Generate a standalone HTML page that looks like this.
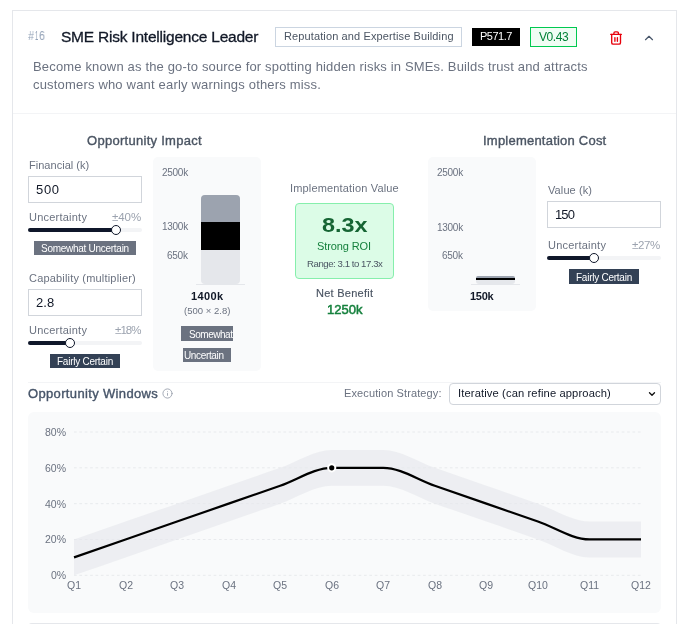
<!DOCTYPE html>
<html><head><meta charset="utf-8"><style>
html,body{margin:0;padding:0;background:#fff;width:685px;height:624px;overflow:hidden;position:relative}
.t{position:absolute;will-change:transform;white-space:nowrap;font-family:"Liberation Sans",sans-serif}
.b{position:absolute}
</style></head><body>
<div class="b" style="left:12px;top:10px;width:665px;height:690px;border:1px solid #e5e7eb;background:#fff;box-sizing:border-box"></div>
<div class="t" style="left:27.90px;top:30.00px;font-size:12px;line-height:12px;color:#94a3b8;font-weight:normal;letter-spacing:0.000px;transform:scaleX(0.9023);transform-origin:0 0;">#</div>
<div class="t" style="left:35.00px;top:30.00px;font-size:12px;line-height:12px;color:#94a3b8;font-weight:normal;letter-spacing:0.000px;transform:scaleX(0.4812);transform-origin:0 0;">1</div>
<div class="t" style="left:39.40px;top:30.00px;font-size:12px;line-height:12px;color:#94a3b8;font-weight:normal;letter-spacing:0.000px;transform:scaleX(0.8872);transform-origin:0 0;">6</div>
<div class="t" style="left:60.60px;top:29.00px;font-size:15.5px;line-height:15.5px;color:#111827;font-weight:normal;letter-spacing:-0.219px;-webkit-text-stroke:0.3px #111827;">SME Risk Intelligence Leader</div>
<div class="b" style="left:275px;top:27px;width:187px;height:20px;border:1px solid #cbd5e1;box-sizing:border-box"></div>
<div class="t" style="left:283.50px;top:31.00px;font-size:11px;line-height:11px;color:#4b5563;font-weight:normal;letter-spacing:0.119px;">Reputation and Expertise Building</div>
<div class="b" style="left:472px;top:28px;width:48px;height:18px;background:#000"></div>
<div class="t" style="left:480.00px;top:31.00px;font-size:11px;line-height:11px;color:#fff;font-weight:normal;letter-spacing:-0.510px;">P571.7</div>
<div class="b" style="left:530px;top:27px;width:47px;height:20px;border:1px solid #00c950;background:#f0fdf4;box-sizing:border-box"></div>
<div class="t" style="left:539.00px;top:31.00px;font-size:12px;line-height:12px;color:#008236;font-weight:normal;letter-spacing:-0.413px;">V0.43</div>
<svg class="b" style="left:600px;top:25px" width="30" height="25" viewBox="600 25 30 25" fill="none" stroke="#e7000b" stroke-width="1.35" stroke-linecap="round" stroke-linejoin="round"><path d="M610.7 34.35h10.7"/><path d="M611.7 34.35v8.3a1.5 1.5 0 0 0 1.5 1.5h5.8a1.5 1.5 0 0 0 1.5-1.5v-8.3"/><path d="M613.9 34.35v-1.2a1.2 1.2 0 0 1 1.2-1.2h2.1a1.2 1.2 0 0 1 1.2 1.2v1.2"/><path d="M614.9 37.6v3.7M617.4 37.6v3.7"/></svg>
<svg class="b" style="left:642.1px;top:31.1px" width="14" height="14" viewBox="0 0 24 24" fill="none" stroke="#475569" stroke-width="2" stroke-linecap="round" stroke-linejoin="round"><path d="m18 15-6-6-6 6"/></svg>
<div class="t" style="left:33.20px;top:60.00px;font-size:13px;line-height:13px;color:#6b7280;font-weight:normal;letter-spacing:0.160px;">Become known as the go-to source for spotting hidden risks in SMEs. Builds trust and attracts</div>
<div class="t" style="left:33.20px;top:78.00px;font-size:13px;line-height:13px;color:#6b7280;font-weight:normal;letter-spacing:0.182px;">customers who want early warnings others miss.</div>
<div class="b" style="left:13px;top:113px;width:663px;height:1px;background:#f3f4f6"></div>
<div class="t" style="left:86.80px;top:134.00px;font-size:13px;line-height:13px;color:#4b5563;font-weight:normal;letter-spacing:0.282px;-webkit-text-stroke:0.38px #4b5563;">Opportunity Impact</div>
<div class="t" style="left:28.50px;top:160.00px;font-size:11px;line-height:11px;color:#6b7280;font-weight:normal;letter-spacing:0.025px;">Financial (k)</div>
<div class="b" style="left:28px;top:176px;width:114px;height:27px;border:1px solid #d1d5db;background:#fff;box-sizing:border-box"></div>
<div class="t" style="left:36.00px;top:183.00px;font-size:13px;line-height:13px;color:#111827;font-weight:normal;letter-spacing:0.650px;">500</div>
<div class="t" style="left:28.50px;top:212.00px;font-size:11px;line-height:11px;color:#6b7280;font-weight:normal;letter-spacing:0.225px;">Uncertainty</div>
<div class="t" style="left:112.00px;top:212.00px;font-size:11.5px;line-height:11.5px;color:#9ca3af;font-weight:normal;letter-spacing:-0.050px;">±40%</div>
<div class="b" style="left:28px;top:228px;width:114px;height:4px;background:#f3f4f6;border-radius:2px"></div>
<div class="b" style="left:28px;top:228px;width:88px;height:4px;background:#0f172a;border-radius:2px"></div>
<div class="b" style="left:111px;top:225px;width:10px;height:10px;background:#fff;border:1.5px solid #0f172a;border-radius:50%;box-sizing:border-box"></div>
<div class="b" style="left:34px;top:241px;width:102px;height:14px;background:#6b7280"></div>
<div class="t" style="left:40.90px;top:244.00px;font-size:10px;line-height:10px;color:#fff;font-weight:normal;letter-spacing:-0.274px;">Somewhat Uncertain</div>
<div class="t" style="left:28.50px;top:273.00px;font-size:11px;line-height:11px;color:#6b7280;font-weight:normal;letter-spacing:0.182px;">Capability (multiplier)</div>
<div class="b" style="left:28px;top:289px;width:114px;height:27px;border:1px solid #d1d5db;background:#fff;box-sizing:border-box"></div>
<div class="t" style="left:36.00px;top:296.00px;font-size:13px;line-height:13px;color:#111827;font-weight:normal;letter-spacing:0.025px;">2.8</div>
<div class="t" style="left:28.50px;top:325.00px;font-size:11px;line-height:11px;color:#6b7280;font-weight:normal;letter-spacing:0.225px;">Uncertainty</div>
<div class="t" style="left:114.60px;top:325.00px;font-size:11.5px;line-height:11.5px;color:#9ca3af;font-weight:normal;letter-spacing:-0.917px;">±18%</div>
<div class="b" style="left:28px;top:341px;width:114px;height:4px;background:#f3f4f6;border-radius:2px"></div>
<div class="b" style="left:28px;top:341px;width:42px;height:4px;background:#0f172a;border-radius:2px"></div>
<div class="b" style="left:65px;top:338px;width:10px;height:10px;background:#fff;border:1.5px solid #0f172a;border-radius:50%;box-sizing:border-box"></div>
<div class="b" style="left:50px;top:354px;width:70px;height:14px;background:#334155"></div>
<div class="t" style="left:56.90px;top:357.00px;font-size:10px;line-height:10px;color:#fff;font-weight:normal;letter-spacing:-0.250px;">Fairly Certain</div>
<div class="b" style="left:153px;top:157px;width:108px;height:214px;background:#f9fafb;border-radius:5px"></div>
<div class="t" style="left:162.00px;top:168.00px;font-size:10px;line-height:10px;color:#6b7280;font-weight:normal;letter-spacing:-0.275px;">2500k</div>
<div class="t" style="left:162.00px;top:222.00px;font-size:10px;line-height:10px;color:#6b7280;font-weight:normal;letter-spacing:-0.275px;">1300k</div>
<div class="t" style="left:167.20px;top:251.00px;font-size:10px;line-height:10px;color:#6b7280;font-weight:normal;letter-spacing:-0.250px;">650k</div>
<div class="b" style="left:201px;top:195px;width:39px;height:89px;background:#e5e7eb;border-radius:4px"></div>
<div class="b" style="left:201px;top:195px;width:39px;height:27px;background:#9ca3af;border-radius:4px 4px 0 0"></div>
<div class="b" style="left:201px;top:222px;width:39px;height:28px;background:#000"></div>
<div class="b" style="left:196px;top:284px;width:49px;height:1px;background:#e5e7eb"></div>
<div class="t" style="left:190.95px;top:291.00px;font-size:11px;line-height:11px;color:#111827;font-weight:bold;letter-spacing:0.375px;">1400k</div>
<div class="t" style="left:183.75px;top:306.00px;font-size:9.5px;line-height:9.5px;color:#6b7280;font-weight:normal;letter-spacing:0.030px;">(500 × 2.8)</div>
<div class="b" style="left:181px;top:326px;width:52px;height:15px;background:#6b7280"></div>
<div class="t" style="left:188.80px;top:330.00px;font-size:10px;line-height:10px;color:#fff;font-weight:normal;letter-spacing:-0.464px;">Somewhat</div>
<div class="b" style="left:183px;top:348px;width:48px;height:14px;background:#6b7280"></div>
<div class="t" style="left:183.70px;top:351.00px;font-size:10px;line-height:10px;color:#fff;font-weight:normal;letter-spacing:-0.350px;">Uncertain</div>
<div class="t" style="left:289.90px;top:183.00px;font-size:11px;line-height:11px;color:#6b7280;font-weight:normal;letter-spacing:0.163px;">Implementation Value</div>
<div class="b" style="left:295px;top:203px;width:99px;height:76px;background:#dcfce7;border:1px solid #86efac;border-radius:4px;box-sizing:border-box"></div>
<div class="t" style="left:321.70px;top:215.00px;font-size:20.6px;line-height:20.6px;color:#166534;font-weight:bold;letter-spacing:0.000px;transform:scaleX(1.1372);transform-origin:0 0;">8.3x</div>
<div class="t" style="left:317.45px;top:241.00px;font-size:11px;line-height:11px;color:#15803d;font-weight:normal;letter-spacing:-0.100px;">Strong ROI</div>
<div class="t" style="left:306.55px;top:259.00px;font-size:9.6px;line-height:9.6px;color:#4b5563;font-weight:normal;letter-spacing:-0.439px;">Range: 3.1 to 17.3x</div>
<div class="t" style="left:316.00px;top:288.00px;font-size:11px;line-height:11px;color:#4b5563;font-weight:normal;letter-spacing:0.260px;-webkit-text-stroke:0.15px #4b5563;">Net Benefit</div>
<div class="t" style="left:326.50px;top:303.00px;font-size:13px;line-height:13px;color:#15803d;font-weight:normal;letter-spacing:0.012px;-webkit-text-stroke:0.5px #15803d;">1250k</div>
<div class="t" style="left:482.80px;top:134.00px;font-size:13px;line-height:13px;color:#4b5563;font-weight:normal;letter-spacing:0.222px;-webkit-text-stroke:0.38px #4b5563;">Implementation Cost</div>
<div class="b" style="left:428px;top:157px;width:108px;height:154px;background:#f9fafb;border-radius:5px"></div>
<div class="t" style="left:436.80px;top:168.00px;font-size:10px;line-height:10px;color:#6b7280;font-weight:normal;letter-spacing:-0.275px;">2500k</div>
<div class="t" style="left:436.80px;top:223.00px;font-size:10px;line-height:10px;color:#6b7280;font-weight:normal;letter-spacing:-0.275px;">1300k</div>
<div class="t" style="left:442.00px;top:251.00px;font-size:10px;line-height:10px;color:#6b7280;font-weight:normal;letter-spacing:-0.250px;">650k</div>
<div class="b" style="left:476px;top:276px;width:39px;height:8px;background:#e5e7eb;border-radius:3px"></div>
<div class="b" style="left:476px;top:276px;width:39px;height:2px;background:#9ca3af;border-radius:3px 3px 0 0"></div>
<div class="b" style="left:476px;top:277.5px;width:39px;height:2.5px;background:#000"></div>
<div class="b" style="left:471px;top:284px;width:49px;height:1px;background:#e5e7eb"></div>
<div class="t" style="left:470.15px;top:291.00px;font-size:11px;line-height:11px;color:#111827;font-weight:bold;letter-spacing:-0.267px;">150k</div>
<div class="t" style="left:547.50px;top:185.00px;font-size:11px;line-height:11px;color:#6b7280;font-weight:normal;letter-spacing:0.100px;">Value (k)</div>
<div class="b" style="left:547px;top:201px;width:114px;height:27px;border:1px solid #d1d5db;background:#fff;box-sizing:border-box"></div>
<div class="t" style="left:555.00px;top:208.00px;font-size:13px;line-height:13px;color:#111827;font-weight:normal;letter-spacing:-0.900px;">150</div>
<div class="t" style="left:547.50px;top:240.00px;font-size:11px;line-height:11px;color:#6b7280;font-weight:normal;letter-spacing:0.225px;">Uncertainty</div>
<div class="t" style="left:631.90px;top:240.00px;font-size:11.5px;line-height:11.5px;color:#9ca3af;font-weight:normal;letter-spacing:-0.350px;">±27%</div>
<div class="b" style="left:547px;top:256px;width:114px;height:4px;background:#f3f4f6;border-radius:2px"></div>
<div class="b" style="left:547px;top:256px;width:47px;height:4px;background:#0f172a;border-radius:2px"></div>
<div class="b" style="left:589px;top:253px;width:10px;height:10px;background:#fff;border:1.5px solid #0f172a;border-radius:50%;box-sizing:border-box"></div>
<div class="b" style="left:569px;top:269px;width:70px;height:15px;background:#334155"></div>
<div class="t" style="left:575.90px;top:273.00px;font-size:10px;line-height:10px;color:#fff;font-weight:normal;letter-spacing:-0.250px;">Fairly Certain</div>
<div class="b" style="left:28px;top:382px;width:633px;height:1px;background:#f3f4f6"></div>
<div class="t" style="left:28.40px;top:387.00px;font-size:13px;line-height:13px;color:#475569;font-weight:normal;letter-spacing:0.347px;-webkit-text-stroke:0.38px #475569;">Opportunity Windows</div>
<svg class="b" style="left:162px;top:387.5px" width="11" height="11" viewBox="0 0 24 24" fill="none" stroke="#9ca3af" stroke-width="2" stroke-linecap="round"><circle cx="12" cy="12" r="10"/><path d="M12 16v-4"/><path d="M12 8h.01"/></svg>
<div class="t" style="left:344.20px;top:388.00px;font-size:11px;line-height:11px;color:#6b7280;font-weight:normal;letter-spacing:0.117px;">Execution Strategy:</div>
<div class="b" style="left:449px;top:383px;width:212px;height:22px;border:1px solid #d1d5db;border-radius:4px;background:#fff;box-sizing:border-box"></div>
<div class="t" style="left:457.80px;top:388.00px;font-size:11.2px;line-height:11.2px;color:#111827;font-weight:normal;letter-spacing:0.117px;">Iterative (can refine approach)</div>
<svg class="b" style="left:647px;top:389px" width="10" height="10" viewBox="0 0 24 24" fill="none" stroke="#111" stroke-width="3.2" stroke-linecap="round" stroke-linejoin="round"><path d="m6 9 6 6 6-6"/></svg>
<div class="b" style="left:28px;top:412px;width:633px;height:201px;background:#f9fafb;border-radius:6px"></div>
<svg class="b" style="left:0;top:0" width="685" height="624"><line x1="74" y1="432.00" x2="641" y2="432.00" stroke="#e8eaed" stroke-width="1" stroke-dasharray="2.7 2.67"/><line x1="74" y1="467.82" x2="641" y2="467.82" stroke="#e8eaed" stroke-width="1" stroke-dasharray="2.7 2.67"/><line x1="74" y1="503.65" x2="641" y2="503.65" stroke="#e8eaed" stroke-width="1" stroke-dasharray="2.7 2.67"/><line x1="74" y1="539.47" x2="641" y2="539.47" stroke="#e8eaed" stroke-width="1" stroke-dasharray="2.7 2.67"/><line x1="74" y1="575.30" x2="641" y2="575.30" stroke="#e8eaed" stroke-width="1" stroke-dasharray="2.7 2.67"/><path d="M74.00,539.47 C91.18,533.50 108.36,527.53 125.55,521.56 C142.73,515.59 159.91,509.62 177.09,503.65 C194.27,497.68 211.45,491.71 228.64,485.74 C245.82,479.77 263.00,473.80 280.18,467.82 C297.36,461.85 314.55,449.91 331.73,449.91 C348.91,449.91 366.09,449.91 383.27,449.91 C400.45,449.91 417.64,461.85 434.82,467.82 C452.00,473.80 469.18,479.77 486.36,485.74 C503.55,491.71 520.73,497.68 537.91,503.65 C555.09,509.62 572.27,521.56 589.45,521.56 C606.64,521.56 623.82,521.56 641.00,521.56 L641.00,557.39 C623.82,557.39 606.64,557.39 589.45,557.39 C572.27,557.39 555.09,545.45 537.91,539.47 C520.73,533.50 503.55,527.53 486.36,521.56 C469.18,515.59 452.00,509.62 434.82,503.65 C417.64,497.68 400.45,485.74 383.27,485.74 C366.09,485.74 348.91,485.74 331.73,485.74 C314.55,485.74 297.36,497.68 280.18,503.65 C263.00,509.62 245.82,515.59 228.64,521.56 C211.45,527.53 194.27,533.50 177.09,539.47 C159.91,545.45 142.73,551.42 125.55,557.39 C108.36,563.36 91.18,569.33 74.00,575.30 Z" fill="#e5e7eb" fill-opacity="0.62"/><path d="M74.00,557.39 C91.18,551.42 108.36,545.45 125.55,539.47 C142.73,533.50 159.91,527.53 177.09,521.56 C194.27,515.59 211.45,509.62 228.64,503.65 C245.82,497.68 263.00,491.71 280.18,485.74 C297.36,479.77 314.55,467.82 331.73,467.82 C348.91,467.82 366.09,467.82 383.27,467.82 C400.45,467.82 417.64,479.77 434.82,485.74 C452.00,491.71 469.18,497.68 486.36,503.65 C503.55,509.62 520.73,515.59 537.91,521.56 C555.09,527.53 572.27,539.47 589.45,539.47 C606.64,539.47 623.82,539.47 641.00,539.47" fill="none" stroke="#000" stroke-width="2.2"/><circle cx="331.73" cy="467.82" r="3.6" fill="#000" stroke="#fff" stroke-width="2"/></svg>
<div class="t" style="left:44.90px;top:427.00px;font-size:10.5px;line-height:10.5px;color:#6b7280;font-weight:normal;letter-spacing:0.000px;">80%</div>
<div class="t" style="left:44.90px;top:463.00px;font-size:10.5px;line-height:10.5px;color:#6b7280;font-weight:normal;letter-spacing:0.000px;">60%</div>
<div class="t" style="left:44.90px;top:499.00px;font-size:10.5px;line-height:10.5px;color:#6b7280;font-weight:normal;letter-spacing:0.000px;">40%</div>
<div class="t" style="left:44.90px;top:534.00px;font-size:10.5px;line-height:10.5px;color:#6b7280;font-weight:normal;letter-spacing:0.000px;">20%</div>
<div class="t" style="left:50.70px;top:570.00px;font-size:10.5px;line-height:10.5px;color:#6b7280;font-weight:normal;letter-spacing:0.000px;">0%</div>
<div class="t" style="left:67.00px;top:580.00px;font-size:10.5px;line-height:10.5px;color:#6b7280;font-weight:normal;letter-spacing:0.000px;">Q1</div>
<div class="t" style="left:118.55px;top:580.00px;font-size:10.5px;line-height:10.5px;color:#6b7280;font-weight:normal;letter-spacing:0.000px;">Q2</div>
<div class="t" style="left:170.09px;top:580.00px;font-size:10.5px;line-height:10.5px;color:#6b7280;font-weight:normal;letter-spacing:0.000px;">Q3</div>
<div class="t" style="left:221.64px;top:580.00px;font-size:10.5px;line-height:10.5px;color:#6b7280;font-weight:normal;letter-spacing:0.000px;">Q4</div>
<div class="t" style="left:273.18px;top:580.00px;font-size:10.5px;line-height:10.5px;color:#6b7280;font-weight:normal;letter-spacing:0.000px;">Q5</div>
<div class="t" style="left:324.73px;top:580.00px;font-size:10.5px;line-height:10.5px;color:#6b7280;font-weight:normal;letter-spacing:0.000px;">Q6</div>
<div class="t" style="left:376.27px;top:580.00px;font-size:10.5px;line-height:10.5px;color:#6b7280;font-weight:normal;letter-spacing:0.000px;">Q7</div>
<div class="t" style="left:427.82px;top:580.00px;font-size:10.5px;line-height:10.5px;color:#6b7280;font-weight:normal;letter-spacing:0.000px;">Q8</div>
<div class="t" style="left:479.36px;top:580.00px;font-size:10.5px;line-height:10.5px;color:#6b7280;font-weight:normal;letter-spacing:0.000px;">Q9</div>
<div class="t" style="left:527.98px;top:580.00px;font-size:10.5px;line-height:10.5px;color:#6b7280;font-weight:normal;letter-spacing:0.000px;">Q10</div>
<div class="t" style="left:579.93px;top:580.00px;font-size:10.5px;line-height:10.5px;color:#6b7280;font-weight:normal;letter-spacing:0.000px;">Q11</div>
<div class="t" style="left:631.08px;top:580.00px;font-size:10.5px;line-height:10.5px;color:#6b7280;font-weight:normal;letter-spacing:0.000px;">Q12</div>
<div class="b" style="left:28px;top:623px;width:633px;height:17px;border-top:1px solid #e5e7eb;border-radius:4px 4px 0 0;box-sizing:border-box"></div>
</body></html>
